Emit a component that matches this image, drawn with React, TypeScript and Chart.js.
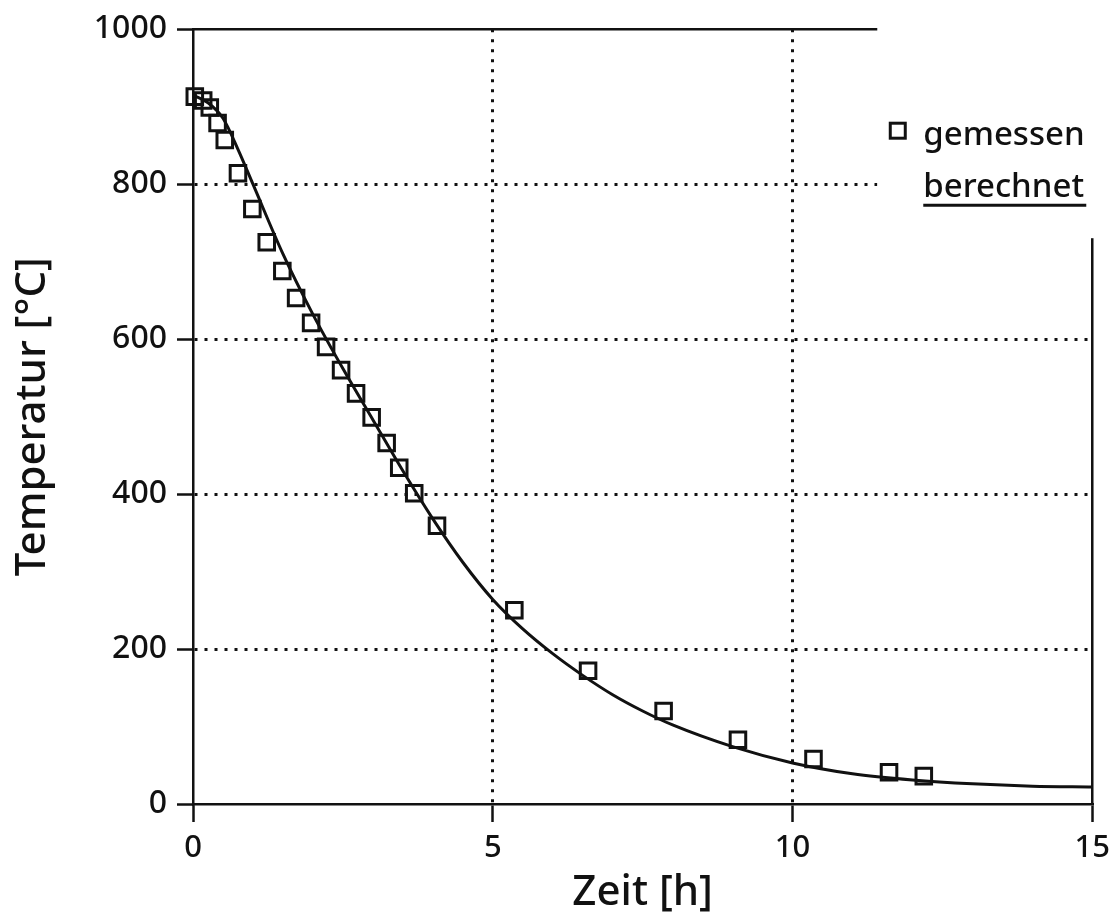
import React, { useEffect, useRef } from "react";
import { Chart, registerables } from "chart.js";

Chart.register(...registerables);

// measured values (gemessen)
const timeMeasured = [0.03, 0.17, 0.28, 0.41, 0.53, 0.75, 0.99, 1.23, 1.49, 1.72, 1.97, 2.22, 2.47, 2.72, 2.98, 3.23, 3.44, 3.69, 4.07, 5.36, 6.59, 7.85, 9.09, 10.35, 11.61, 12.19];
const tempMeasured = [913, 908, 899, 879, 857, 814, 768, 725, 688, 653, 621, 590, 560, 530, 499, 466, 434, 401, 359, 250, 172, 120, 83, 58, 41, 36];

// calculated curve (berechnet)
const timeCalc = [0, 0.25, 0.5, 0.75, 1, 1.5, 2, 2.5, 3, 3.5, 4, 4.5, 5, 5.5, 6, 6.5, 7, 7.5, 8, 9, 10, 11, 12, 13, 14, 15];
const tempCalc = [915, 905, 885, 845, 800, 710, 632, 562, 496, 430, 368, 312, 264, 226, 194, 166, 141, 120, 102, 74, 53, 39, 31, 26, 23, 22];

const xTicks = [0, 5, 10, 15];
const yTicks = [0, 200, 400, 600, 800, 1000];
const legendLabels = ["gemessen", "berechnet"];
const xTitle = "Zeit [h]";
const yTitle = "Temperatur [°C]";

const FONT = "'Noto Sans', 'DejaVu Sans', sans-serif";
const INK = "#111111";

const framePlugin = {
  id: "frameLegend",
  afterDraw(chart: any) {
    const { ctx } = chart;
    const xs = chart.scales.x;
    const ys = chart.scales.y;
    const left = xs.getPixelForValue(xTicks[0]);
    const right = xs.getPixelForValue(xTicks[xTicks.length - 1]);
    const top = ys.getPixelForValue(yTicks[yTicks.length - 1]);
    const bottom = ys.getPixelForValue(yTicks[0]);
    ctx.save();
    // top and right frame lines
    ctx.strokeStyle = INK;
    ctx.lineWidth = 2.5;
    ctx.setLineDash([]);
    ctx.beginPath();
    ctx.moveTo(left, top);
    ctx.lineTo(right, top);
    ctx.lineTo(right, bottom);
    ctx.stroke();
    // legend area (blank box over the frame)
    const bx = right - 215;
    ctx.fillStyle = "#ffffff";
    ctx.fillRect(bx, 0, chart.width - bx, top + 209);
    // legend: square marker + text
    ctx.strokeStyle = INK;
    ctx.lineWidth = 3;
    ctx.strokeRect(bx + 13, top + 94, 15, 15);
    ctx.fillStyle = INK;
    ctx.font = `500 33px ${FONT}`;
    ctx.textAlign = "left";
    ctx.textBaseline = "alphabetic";
    ctx.fillText(legendLabels[0], bx + 46, top + 116);
    ctx.fillText(legendLabels[1], bx + 46, top + 168);
    // legend line sample (underline)
    ctx.lineWidth = 3;
    ctx.beginPath();
    ctx.moveTo(bx + 46, top + 176);
    ctx.lineTo(bx + 209, top + 176);
    ctx.stroke();
    ctx.restore();
  },
};

export default function App() {
  const ref = useRef<HTMLCanvasElement | null>(null);

  useEffect(() => {
    if (!ref.current) return;
    const chart = new Chart(ref.current, {
      type: "scatter",
      data: {
        datasets: [
          {
            type: "line",
            label: legendLabels[1],
            data: timeCalc.map((t, i) => ({ x: t, y: tempCalc[i] })),
            borderColor: INK,
            borderWidth: 3,
            pointRadius: 0,
            fill: false,
            cubicInterpolationMode: "monotone",
            order: 2,
          } as any,
          {
            type: "scatter",
            label: legendLabels[0],
            data: timeMeasured.map((t, i) => ({ x: t, y: tempMeasured[i] })),
            pointStyle: "rect",
            pointRadius: 11,
            pointBorderWidth: 3,
            borderColor: INK,
            backgroundColor: "rgba(0,0,0,0)",
            clip: false,
            order: 1,
          } as any,
        ],
      },
      options: {
        responsive: false,
        animation: false,
        devicePixelRatio: 1,
        layout: { padding: { top: 29, right: 19, left: 0, bottom: 0 } },
        plugins: {
          legend: { display: false },
          tooltip: { enabled: false },
        },
        scales: {
          x: {
            type: "linear",
            min: 0,
            max: 15,
            afterFit: (s: any) => {
              s.height = 114;
            },
            afterBuildTicks: (s: any) => {
              s.ticks = xTicks.map((v) => ({ value: v }));
            },
            ticks: {
              color: INK,
              font: { family: FONT, size: 31, weight: "500" },
              padding: 8,
              maxRotation: 0,
              autoSkip: false,
              callback: (v: any) => String(v),
            },
            grid: {
              color: (c: any) => (c.tick && (c.tick.value === 5 || c.tick.value === 10) ? INK : "rgba(0,0,0,0)"),
              lineWidth: 3,
              tickColor: INK,
              tickWidth: 2.5,
              tickLength: 18,
              tickBorderDash: [],
            },
            border: { display: true, color: INK, width: 2.5, dash: [3, 7] },
            title: {
              display: true,
              text: xTitle,
              color: INK,
              font: { family: FONT, size: 42, weight: "500" },
              padding: { top: 0, bottom: 0 },
            },
          },
          y: {
            type: "linear",
            min: 0,
            max: 1000,
            afterFit: (s: any) => {
              s.width = 193;
            },
            afterBuildTicks: (s: any) => {
              s.ticks = yTicks.map((v) => ({ value: v }));
            },
            ticks: {
              color: INK,
              font: { family: FONT, size: 32, weight: "500" },
              padding: 10,
              autoSkip: false,
              callback: (v: any) => String(v),
            },
            grid: {
              color: (c: any) => (c.tick && c.tick.value > 0 && c.tick.value < 1000 ? INK : "rgba(0,0,0,0)"),
              lineWidth: 3,
              tickColor: INK,
              tickWidth: 2.5,
              tickLength: 16,
              tickBorderDash: [],
            },
            border: { display: true, color: INK, width: 2.5, dash: [3, 7] },
            title: {
              display: true,
              text: yTitle,
              color: INK,
              font: { family: FONT, size: 42, weight: "500" },
              padding: { top: 8, bottom: 0 },
            },
          },
        },
      },
      plugins: [framePlugin],
    } as any);
    return () => chart.destroy();
  }, []);

  return (
    <div style={{ position: "absolute", left: 0, top: 0, width: 1118, height: 918, background: "#fff" }}>
      <canvas ref={ref} width={1118} height={918} style={{ display: "block" }} />
    </div>
  );
}
